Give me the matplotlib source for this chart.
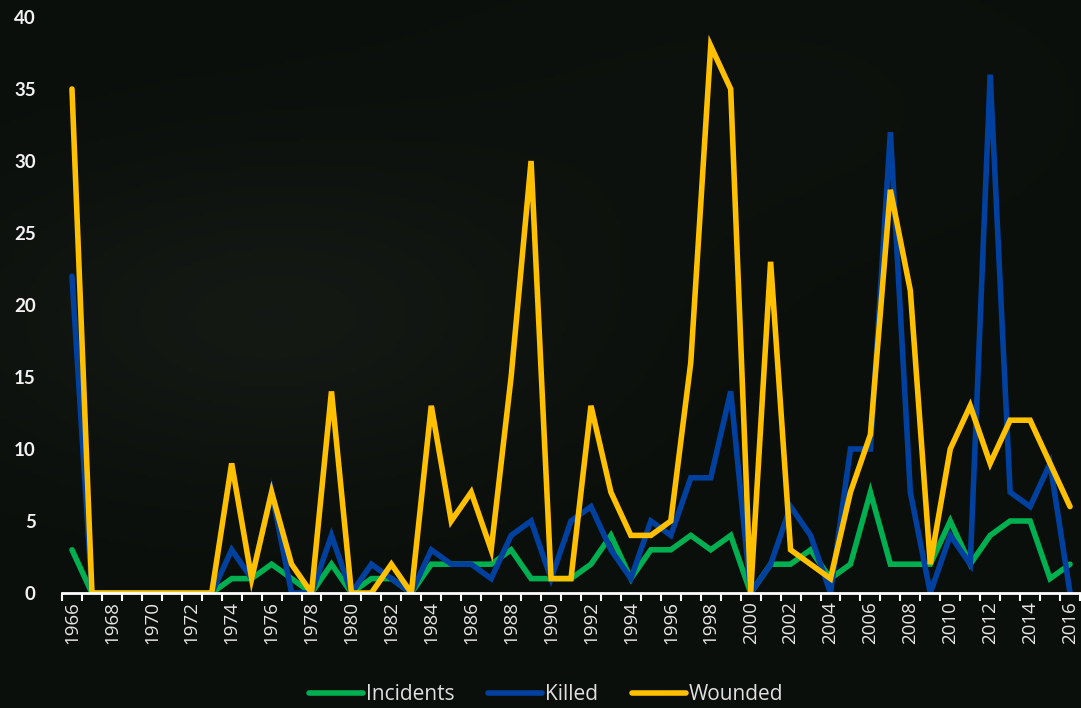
import numpy as np
import matplotlib
matplotlib.use("Agg")
import matplotlib.pyplot as plt
from matplotlib.ticker import FixedLocator
from matplotlib.lines import Line2D

years = list(range(1966, 2017))
incidents = [3, 0, 0, 0, 0, 0, 0, 0, 1, 1, 2, 1, 0, 2, 0, 1, 1, 0, 2, 2,
             2, 2, 3, 1, 1, 1, 2, 4, 1, 3, 3, 4, 3, 4, 0, 2, 2, 3, 1, 2,
             7, 2, 2, 2, 5, 2, 4, 5, 5, 1, 2]
killed = [22, 0, 0, 0, 0, 0, 0, 0, 3, 1, 7, 0, 0, 4, 0, 2, 1, 0, 3, 2,
          2, 1, 4, 5, 1, 5, 6, 3, 1, 5, 4, 8, 8, 14, 0, 2, 6, 4, 0, 10,
          10, 32, 7, 0, 4, 2, 36, 7, 6, 9, 0]
wounded = [35, 0, 0, 0, 0, 0, 0, 0, 9, 1, 7, 2, 0, 14, 0, 0, 2, 0, 13, 5,
           7, 3, 15, 30, 1, 1, 13, 7, 4, 4, 5, 16, 38, 35, 0, 23, 3, 2, 1, 7,
           11, 28, 21, 2, 10, 13, 9, 12, 12, 9, 6]
series_names = ["Incidents", "Killed", "Wounded"]
series_colors = ["#00b050", "#0041a0", "#ffc000"]

W, H = 1081, 708
fig = plt.figure(figsize=(W / 100, H / 100), dpi=100)

# dark textured-looking background
bg = fig.add_axes([0, 0, 1, 1])
gx, gy = np.meshgrid(np.linspace(0, 1, 300), np.linspace(0, 1, 200))
shade = np.exp(-((gx - 0.25) ** 2 / 0.08 + (gy - 0.55) ** 2 / 0.05)) * 0.6
shade += 0.15 * np.exp(-((gx - 0.7) ** 2 / 0.1 + (gy - 0.85) ** 2 / 0.05))
base = np.array([11, 15, 11]) / 255
top = np.array([26, 31, 26]) / 255
img = base + (top - base) * shade[..., None]
bg.imshow(img, extent=[0, 1, 0, 1], aspect="auto", origin="lower")
bg.axis("off")

ax = fig.add_axes([62 / W, 1 - 593 / H, (1080 - 62) / W, (593 - 17) / H])
ax.patch.set_alpha(0)

for vals, name, col in zip([incidents, killed, wounded], series_names, series_colors):
    ax.plot(years, vals, color=col, lw=4, label=name,
            solid_joinstyle="miter", solid_capstyle="round")

ax.set_xlim(1965.5, 2016.5)
ax.set_ylim(0, 40)
ax.set_yticks(range(0, 41, 5))
ax.set_yticklabels([str(v) for v in range(0, 41, 5)], fontsize=13.5,
                   fontweight="bold", color="#f2f2f2", family="Lato")
ax.tick_params(axis="y", length=0, pad=19)

ax.xaxis.set_major_locator(FixedLocator(years[::2]))
ax.set_xticklabels([str(y) for y in years[::2]], rotation=90, fontsize=13.5,
                   color="#e6e6e6", family="Open Sans")
ax.xaxis.set_minor_locator(FixedLocator(np.arange(1965.5, 2017, 1)))
ax.tick_params(axis="x", which="major", length=0, pad=6)
ax.tick_params(axis="x", which="minor", length=6, width=1.5, color="white")

for s in ["top", "right", "left"]:
    ax.spines[s].set_visible(False)
ax.spines["bottom"].set_color("white")
ax.spines["bottom"].set_linewidth(2)

handles = [Line2D([0], [0], color=c, lw=4, solid_capstyle="round") for c in series_colors]
leg = fig.legend(handles, series_names, loc="center", bbox_to_anchor=(546 / W, 1 - 695 / H),
                 ncol=3, frameon=False, handlelength=2.6, handletextpad=0.15,
                 columnspacing=1.6, prop={"family": "Open Sans", "size": 15})
for t in leg.get_texts():
    t.set_color("#e0e0e0")

fig.savefig("out.png", dpi=100)
